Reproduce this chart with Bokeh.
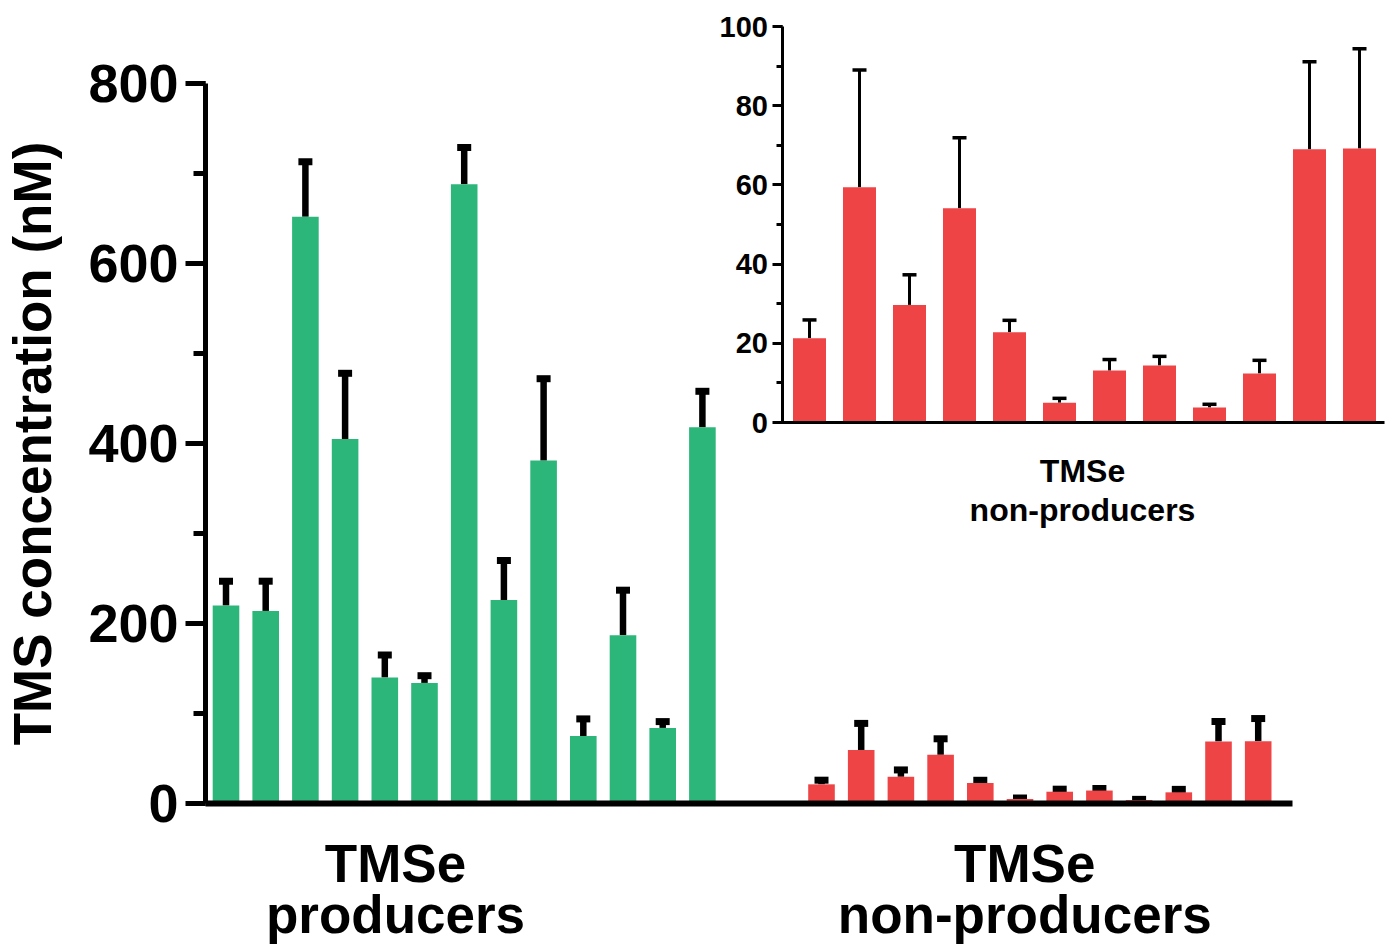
import math
from bokeh.plotting import figure
from bokeh.models import (Range1d, LinearAxis, SingleIntervalTicker, FixedTicker,
                          ColumnDataSource, Whisker, TeeHead, Label)
from bokeh.embed import file_html
from bokeh.resources import INLINE

# ---------------- data ----------------
producer_pos = list(range(13))
producer_vals = [220, 214, 652, 405, 140, 134, 688, 226, 381, 75, 187, 84, 418]
producer_err = [27, 33, 61, 73, 25, 8, 41, 44, 91, 19, 50, 7, 40]

nonprod_pos = list(range(15, 27))
nonprod_vals = [21.3, 59.4, 29.7, 54.1, 22.8, 5.0, 13.1, 14.4, 3.8, 12.4, 69.0, 69.2]
nonprod_err = [4.6, 29.6, 7.6, 17.8, 3.0, 1.1, 2.8, 2.3, 0.8, 3.3, 22.1, 25.2]

inset_pos = list(range(12))

group_label_pos = [4.27, 20.12]
group_labels = ["TMSe\nproducers", "TMSe\nnon-producers"]
inset_label = "TMSe\nnon-producers"
y_label = "TMS concentration (nM)"

GREEN = "#2cb67a"
RED = "#ee4446"
FONT = "Liberation Sans"

# ---------------- layout (page px); the frame fills the whole canvas ----------------
W, H = 1388, 947
MX0, MDX = 225.5, 39.7                       # main: px of x=0, px per unit
MY0, MDY = 803.0, 0.9                        # main: px of y=0, px per nM
IX0, IDX = 809.0, 50.0                       # inset x
IY0, IDY = 422.0, 3.96                       # inset y (px of 0, px per unit)
MAIN_AXIS_PX, MAIN_END_PX = 205, 1292        # main y-axis / end of main baseline
YLABEL_X = 32                                # centre of the rotated y title

x_range = Range1d((0 - MX0) / MDX, (W - MX0) / MDX)
y_range = Range1d((MY0 - H) / MDY, MY0 / MDY)

p = figure(width=W, height=H, x_range=x_range, y_range=y_range,
           output_backend="svg", toolbar_location=None,
           x_axis_type=None, y_axis_type=None,
           min_border_left=0, min_border_right=0,
           min_border_top=0, min_border_bottom=0)
p.outline_line_color = None
p.background_fill_color = "white"
p.border_fill_color = "white"
p.xgrid.visible = False
p.ygrid.visible = False

p.extra_x_ranges = {"ix": Range1d((0 - IX0) / IDX, (W - IX0) / IDX)}
p.extra_y_ranges = {"iy": Range1d((IY0 - H) / IDY, IY0 / IDY)}

main_axis_x = (MAIN_AXIS_PX - MX0) / MDX

# ---------------- main axes ----------------
yax = LinearAxis(fixed_location=main_axis_x, bounds=(0, 800),
                 ticker=SingleIntervalTicker(interval=200, num_minor_ticks=2))
yax.axis_line_width = 5
yax.major_tick_line_width = 5
yax.minor_tick_line_width = 5
yax.major_tick_in = 0
yax.major_tick_out = 20
yax.minor_tick_in = 0
yax.minor_tick_out = 12
yax.major_label_text_font = FONT
yax.major_label_text_font_style = "bold"
yax.major_label_text_font_size = "54px"
yax.major_label_text_color = "black"
yax.major_label_standoff = 7
p.add_layout(yax, "left")

# y-axis title, centred on the 0-800 part of the axis
p.add_layout(Label(x=YLABEL_X, y=400, x_units="screen", y_units="data",
                   text=y_label, angle=math.pi / 2,
                   text_align="center", text_baseline="middle",
                   text_font=FONT, text_font_style="bold",
                   text_font_size="53px", text_color="black"))

xax = LinearAxis(fixed_location=0,
                 bounds=(main_axis_x, (MAIN_END_PX - MX0) / MDX),
                 ticker=FixedTicker(ticks=group_label_pos, minor_ticks=[]))
xax.major_label_overrides = {group_label_pos[0]: group_labels[0],
                             group_label_pos[1]: group_labels[1]}
xax.axis_line_width = 6
xax.major_tick_line_color = None
xax.minor_tick_line_color = None
xax.major_tick_in = 0
xax.major_tick_out = 0
xax.major_label_standoff = 30
xax.major_label_text_font = FONT
xax.major_label_text_font_style = "bold"
xax.major_label_text_font_size = "53px"
xax.major_label_text_color = "black"
xax.major_label_text_line_height = 0.88
p.add_layout(xax, "below")

# ---------------- main bars ----------------
src_p = ColumnDataSource(dict(x=producer_pos, top=producer_vals,
                              up=[v + e for v, e in zip(producer_vals, producer_err)]))
src_n = ColumnDataSource(dict(x=nonprod_pos, top=nonprod_vals,
                              up=[v + e for v, e in zip(nonprod_vals, nonprod_err)]))

for src in (src_p, src_n):
    p.add_layout(Whisker(source=src, base="x", lower="top", upper="up",
                         dimension="height", line_width=6.5, line_color="black",
                         upper_head=TeeHead(size=14, line_width=7, line_color="black"),
                         lower_head=None))
p.vbar(x="x", top="top", width=0.67, bottom=0, source=src_p,
       fill_color=GREEN, line_color=None)
p.vbar(x="x", top="top", width=0.67, bottom=0, source=src_n,
       fill_color=RED, line_color=None)

# ---------------- inset ----------------
src_i = ColumnDataSource(dict(x=inset_pos, top=nonprod_vals,
                              up=[v + e for v, e in zip(nonprod_vals, nonprod_err)]))
p.add_layout(Whisker(source=src_i, base="x", lower="top", upper="up",
                     dimension="height", line_width=3, line_color="black",
                     x_range_name="ix", y_range_name="iy",
                     upper_head=TeeHead(size=14, line_width=3.5, line_color="black"),
                     lower_head=None))
p.vbar(x="x", top="top", width=0.66, bottom=0, source=src_i,
       fill_color=RED, line_color=None, x_range_name="ix", y_range_name="iy")

iyax = LinearAxis(x_range_name="ix", y_range_name="iy", fixed_location=-0.55,
                  bounds=(0, 100),
                  ticker=SingleIntervalTicker(interval=20, num_minor_ticks=2))
iyax.axis_line_width = 3
iyax.major_tick_line_width = 3
iyax.minor_tick_line_width = 3
iyax.major_tick_in = 0
iyax.major_tick_out = 10
iyax.minor_tick_in = 0
iyax.minor_tick_out = 6
iyax.major_label_text_font = FONT
iyax.major_label_text_font_style = "bold"
iyax.major_label_text_font_size = "29px"
iyax.major_label_text_color = "black"
iyax.major_label_standoff = 4
p.add_layout(iyax, "left")

ixax = LinearAxis(x_range_name="ix", y_range_name="iy", fixed_location=0,
                  bounds=(-0.58, 11.5), ticker=FixedTicker(ticks=[], minor_ticks=[]))
ixax.axis_line_width = 3
ixax.major_tick_line_color = None
ixax.minor_tick_line_color = None
ixax.axis_label = inset_label
ixax.axis_label_text_font = FONT
ixax.axis_label_text_font_style = "bold"
ixax.axis_label_text_font_size = "32px"
ixax.axis_label_text_color = "black"
ixax.axis_label_text_line_height = 1.1
ixax.axis_label_standoff = 30
p.add_layout(ixax, "below")

open("out.html", "w").write(file_html(p, INLINE))
